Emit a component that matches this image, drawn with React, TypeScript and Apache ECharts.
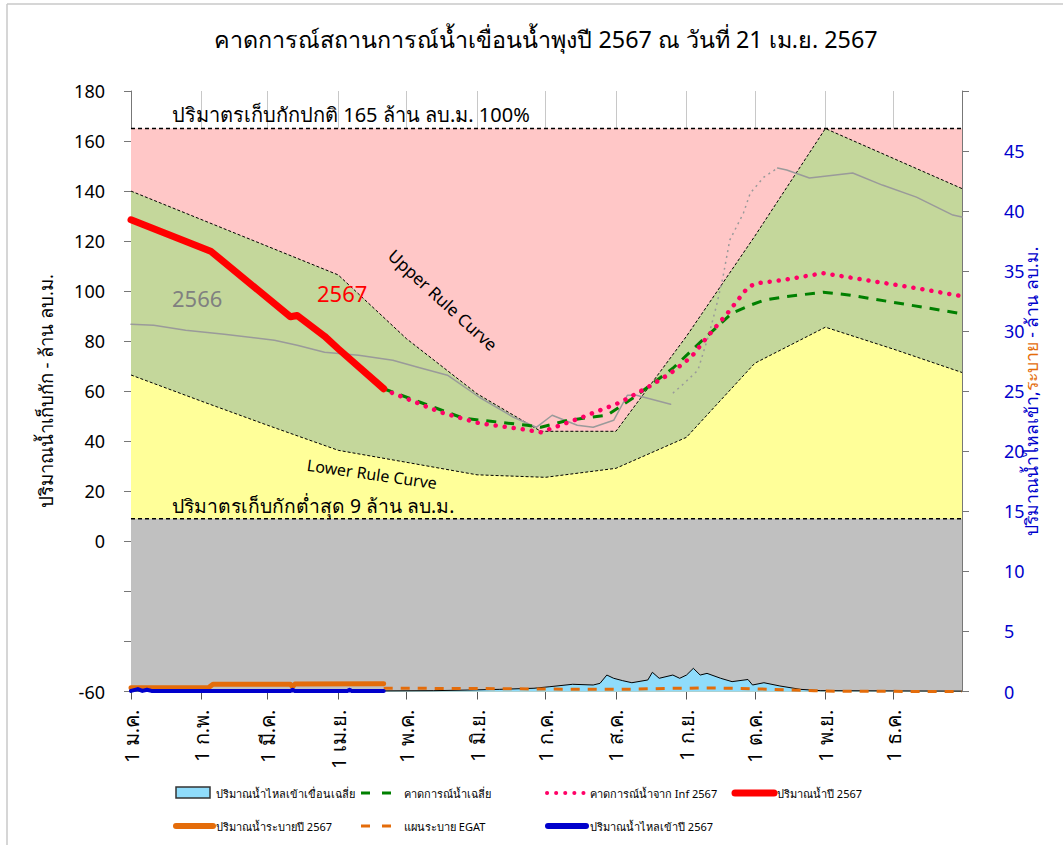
import React, { useEffect, useRef } from 'react';
import * as echarts from 'echarts';

// ---------- x axis (day of year 2024 / B.E. 2567) ----------
const monthTickDays = [0, 31, 60, 91, 121, 152, 182, 213, 244, 274, 305, 335];
const monthTickLabels = ['1 ม.ค.', '1 ก.พ.', '1 มี.ค.', '1 เม.ย.', '1 พ.ค.', '1 มิ.ย.', '1 ก.ค.', '1 ส.ค.', '1 ก.ย.', '1 ต.ค.', '1 พ.ย.', '1 ธ.ค.'];

// ---------- storage zones (left axis, million m3) ----------
const normalStorage: [number, number][] = [[0, 165], [365, 165]];
const minStorage: [number, number][] = [[0, 9], [365, 9]];
const upperRuleCurve: [number, number][] = [[0, 140], [91, 106.5], [121, 81], [152, 59], [180, 44], [213, 44], [244, 82], [274, 122], [305, 165], [365, 141]];
const lowerRuleCurve: [number, number][] = [[0, 66.5], [31, 56], [60, 46.4], [91, 36.4], [121, 31.6], [152, 26.6], [182, 25.6], [213, 29.2], [244, 41.6], [274, 71.2], [305, 85.6], [335, 76.8], [365, 67.5]];

// ---------- storage lines ----------
const storage2567: [number, number][] = [[0, 128.5], [35, 116], [70, 89.8], [73, 90.3], [85, 82], [91, 77], [111, 61]];
const storage2566Early: [number, number][] = [[0, 86.8], [10, 86.4], [24, 84.4], [41, 82.8], [63, 80.4], [73, 78.4], [85, 75.6], [100, 74.4], [115, 72.4], [126, 69.6], [139, 66.4], [153, 57.6], [168, 49.6], [178, 45.6], [185, 50.4], [196, 46.4], [203, 45.6], [212, 48.4], [218, 58.4], [222, 58.4], [237, 54.8]];
const storage2566Rise: [number, number][] = [[238, 59.2], [243, 63.2], [249, 68.4], [254, 83.2], [257, 93.6], [260, 105.6], [263, 120.4], [269, 131.2], [272, 139.2], [278, 145.6], [284, 149.2]];
const storage2566Late: [number, number][] = [[284, 149.2], [288, 148.4], [298, 145.2], [317, 147.2], [330, 142.4], [345, 137.6], [361, 130.4], [365, 129.6]];
const forecastAvg: [number, number][] = [[111, 61], [146, 49.2], [158, 48], [174, 46.4], [180, 45.6], [192, 48.4], [209, 50.4], [221, 57.6], [238, 69.2], [251, 80.4], [264, 91.2], [272, 94.4], [278, 96.4], [286, 97.6], [304, 99.6], [316, 98.4], [361, 91.6], [365, 91]];
const forecastInf: [number, number][] = [[111, 61], [114, 59.6], [136, 51.6], [153, 47.2], [172, 44.8], [180, 43.6], [197, 49.2], [215, 55.6], [227, 61.6], [237, 67.2], [246, 73.6], [253, 81.6], [262, 91.2], [271, 101.6], [275, 103.2], [286, 104.4], [304, 107.2], [323, 104.4], [345, 101.2], [365, 98]];

// ---------- flows (right axis, million m3/day) ----------
const avgInflow: [number, number][] = [[0, 0.05], [111, 0.05], [133, 0.07], [148, 0.12], [162, 0.18], [177, 0.27], [184, 0.4], [194, 0.6], [203, 0.54], [206, 0.68], [209, 1.37], [212, 1.1], [216, 0.9], [220, 0.73], [227, 0.96], [229, 1.6], [232, 1.1], [238, 1.37], [241, 1.1], [244, 1.37], [247, 1.93], [250, 1.37], [253, 1.51], [259, 1.1], [264, 0.82], [271, 1.0], [273, 0.54], [278, 0.73], [285, 0.46], [294, 0.18], [303, 0.07], [365, 0.03]];
const egatPlan: [number, number][] = [[111, 0.27], [150, 0.25], [185, 0.2], [215, 0.18], [240, 0.27], [255, 0.3], [275, 0.22], [290, 0.12], [300, 0.07], [310, 0.02], [365, 0]];
const release2567: [number, number][] = [[0, 0.32], [34, 0.32], [36, 0.6], [70, 0.6], [71, 0.4], [72, 0.62], [111, 0.65]];
const inflow2567: [number, number][] = [[0, 0.05], [3, 0.2], [5, 0.05], [7, 0.15], [9, 0.05], [70, 0.05], [71, 0.15], [72, 0.05], [95, 0.05], [96, 0.15], [97, 0.05], [111, 0.05]];

const FONT = "Tahoma, 'Noto Sans', 'DejaVu Sans', sans-serif";
const BLUE = '#0000cc';
const ORANGE = '#e46c0a';

export default function App() {
  const ref = useRef<HTMLDivElement>(null);
  useEffect(() => {
    if (!ref.current) return;
    const chart = echarts.init(ref.current, null, { renderer: 'svg' });
    const zone = (name: string, data: [number, number][], fill: string, dash: number[], width: number) => ({
      name, type: 'line', data, symbol: 'none', silent: true,
      lineStyle: { color: '#000', width, type: dash },
      areaStyle: { color: fill, opacity: 1, origin: 'start' },
    });
    const line = (name: string, data: [number, number][], color: string, width: number, type: any, yAxisIndex = 0, extra: any = {}) => ({
      name, type: 'line', data, symbol: 'none', yAxisIndex,
      lineStyle: { color, width, type, cap: 'round', join: 'round', ...extra },
    });
    const legendText = (text: string, x: number, y: number) => ({
      type: 'text', x, y,
      style: { text, fill: '#000', fontSize: 11, fontFamily: FONT, verticalAlign: 'middle', align: 'left' },
    });
    const legendLine = (x1: number, x2: number, y: number, stroke: string, lineWidth: number, lineDash: any, lineCap = 'butt') => ({
      type: 'line', shape: { x1, y1: y, x2, y2: y },
      style: { stroke, lineWidth, lineDash, lineCap },
    });

    chart.setOption({
      animation: false,
      backgroundColor: '#fff',
      textStyle: { fontFamily: FONT },
      title: {
        text: 'คาดการณ์สถานการณ์น้ำเขื่อนน้ำพุงปี 2567 ณ วันที่ 21 เม.ย. 2567',
        left: 541, top: 22, textAlign: 'center',
        textStyle: { fontSize: 23.3, fontWeight: 'normal', color: '#000', fontFamily: FONT },
      },
      grid: { left: 131, top: 91, right: 101, bottom: 153.5 },
      xAxis: {
        type: 'value', min: 0, max: 365,
        axisLine: { onZero: false, lineStyle: { color: '#000', width: 1 } },
        axisTick: { customValues: monthTickDays, length: 8, lineStyle: { color: '#555' } },
        axisLabel: {
          customValues: monthTickDays, rotate: 90, margin: 18, fontSize: 20, color: '#000', fontFamily: FONT,
          formatter: (v: number) => monthTickLabels[monthTickDays.indexOf(Math.round(v))] ?? '',
        },
        splitLine: { show: true, lineStyle: { color: '#c8c8c8', width: 1 } },
      },
      yAxis: [
        {
          type: 'value', min: -60, max: 180, interval: 20,
          name: 'ปริมาณน้ำเก็บกัก - ล้าน ลบ.ม.', nameLocation: 'middle', nameGap: 76,
          nameTextStyle: { fontSize: 18.5, color: '#000', fontFamily: FONT },
          axisLine: { show: true, lineStyle: { color: '#777' } },
          axisTick: { show: true, length: 7, lineStyle: { color: '#777' } },
          axisLabel: { fontSize: 18, color: '#000', margin: 26, fontFamily: FONT, formatter: (v: number) => (v >= 0 || v === -60 ? String(v) : '') },
          splitLine: { show: false },
        },
        {
          type: 'value', min: 0, max: 50, interval: 5, position: 'right',
          name: '{b|ปริมาณน้ำไหลเข้า,}{o|ระบาย}{b| - ล้าน ลบ.ม.}', nameLocation: 'middle', nameGap: 60,
          nameMoveOverlap: false,
          nameTextStyle: {
            fontSize: 17.5, fontFamily: FONT,
            rich: { b: { color: BLUE, fontSize: 17.5, fontFamily: FONT }, o: { color: ORANGE, fontSize: 17.5, fontFamily: FONT } },
          },
          axisLine: { show: true, lineStyle: { color: '#777' } },
          axisTick: { show: true, length: 7, lineStyle: { color: '#777' } },
          axisLabel: { fontSize: 18, color: BLUE, margin: 42, fontFamily: FONT, formatter: (v: number) => (v >= 50 ? '' : String(v)) },
          splitLine: { show: false },
        },
      ],
      series: [
        zone('ปริมาตรเก็บกักปกติ', normalStorage, '#ffc7c7', [4, 3], 1.5),
        zone('Upper Rule Curve', upperRuleCurve, '#c4d79b', [3, 2], 1),
        zone('Lower Rule Curve', lowerRuleCurve, '#ffff99', [3, 2], 1),
        zone('ปริมาตรเก็บกักต่ำสุด', minStorage, '#c0c0c0', [4, 3], 1.5),
        {
          name: 'ปริมาณน้ำไหลเข้าเขื่อนเฉลี่ย', type: 'line', yAxisIndex: 1, data: avgInflow, symbol: 'none',
          lineStyle: { color: '#000', width: 1 }, areaStyle: { color: '#8fdcfb', opacity: 1, origin: 'start' },
        },
        line('แผนระบาย EGAT', egatPlan, ORANGE, 3, [9, 8], 1, { cap: 'butt' }),
        line('ปริมาณน้ำระบายปี 2567', release2567, ORANGE, 5, 'solid', 1),
        line('ปริมาณน้ำไหลเข้าปี 2567', inflow2567, BLUE, 4, 'solid', 1),
        line('2566', storage2566Early, '#9a9a9a', 1.5, 'solid'),
        line('2566 ', storage2566Rise, '#9a9a9a', 1.5, [2, 4], 0, { cap: 'butt' }),
        line('2566  ', storage2566Late, '#9a9a9a', 1.5, 'solid'),
        line('คาดการณ์น้ำเฉลี่ย', forecastAvg, '#008000', 3, [10, 8], 0, { cap: 'butt' }),
        line('คาดการณ์น้ำจาก Inf 2567', forecastInf, '#ff0066', 4.5, [0.1, 9]),
        line('ปริมาณน้ำปี 2567', storage2567, '#ff0000', 7, 'solid'),
      ],
      graphic: [
        { type: 'line', shape: { x1: 7, y1: 4, x2: 1063, y2: 4 }, style: { stroke: '#c8c8c8', lineWidth: 1.5 } },
        { type: 'line', shape: { x1: 7, y1: 4, x2: 7, y2: 845 }, style: { stroke: '#c8c8c8', lineWidth: 1.5 } },
        { type: 'text', x: 172, y: 114, z: 100, style: { text: 'ปริมาตรเก็บกักปกติ 165 ล้าน ลบ.ม. 100%', fill: '#000', fontSize: 20, fontFamily: FONT, verticalAlign: 'middle' } },
        { type: 'text', x: 172, y: 505, z: 100, style: { text: 'ปริมาตรเก็บกักต่ำสุด 9 ล้าน ลบ.ม.', fill: '#000', fontSize: 19.3, fontFamily: FONT, verticalAlign: 'middle' } },
        { type: 'text', x: 443, y: 300, rotation: -0.74, z: 100, style: { text: 'Upper Rule Curve', fill: '#000', fontSize: 17, fontFamily: FONT, align: 'center', verticalAlign: 'middle' } },
        { type: 'text', x: 372, y: 474, rotation: -0.14, z: 100, style: { text: 'Lower Rule Curve', fill: '#000', fontSize: 16, fontFamily: FONT, align: 'center', verticalAlign: 'middle' } },
        { type: 'text', x: 172, y: 298, z: 100, style: { text: '2566', fill: '#808080', fontSize: 22, fontFamily: FONT, verticalAlign: 'middle' } },
        { type: 'text', x: 317, y: 293, z: 100, style: { text: '2567', fill: '#ff0000', fontSize: 22, fontFamily: FONT, verticalAlign: 'middle' } },
        // legend row 1
        { type: 'rect', shape: { x: 176, y: 787, width: 34, height: 11 }, style: { fill: '#8fdcfb', stroke: '#333', lineWidth: 1.5 } },
        legendText('ปริมาณน้ำไหลเข้าเขื่อนเฉลี่ย', 216, 793),
        legendLine(361, 393, 793, '#008000', 3, [9, 12]),
        legendText('คาดการณ์น้ำเฉลี่ย', 404, 793),
        legendLine(547, 584, 793, '#ff0066', 4, [0.1, 9], 'round'),
        legendText('คาดการณ์น้ำจาก Inf 2567', 590, 793),
        legendLine(735, 774, 793, '#ff0000', 7, null, 'round'),
        legendText('ปริมาณน้ำปี 2567', 777, 793),
        // legend row 2
        legendLine(176, 213, 826, ORANGE, 6, null, 'round'),
        legendText('ปริมาณน้ำระบายปี 2567', 216, 826),
        legendLine(361, 393, 826, ORANGE, 3, [9, 12]),
        legendText('แผนระบาย EGAT', 404, 826),
        legendLine(548, 586, 826, BLUE, 6, null, 'round'),
        legendText('ปริมาณน้ำไหลเข้าปี 2567', 590, 826),
      ],
    });
    return () => chart.dispose();
  }, []);
  return <div ref={ref} style={{ position: 'absolute', left: 0, top: 0, width: 1063, height: 845 }} />;
}
